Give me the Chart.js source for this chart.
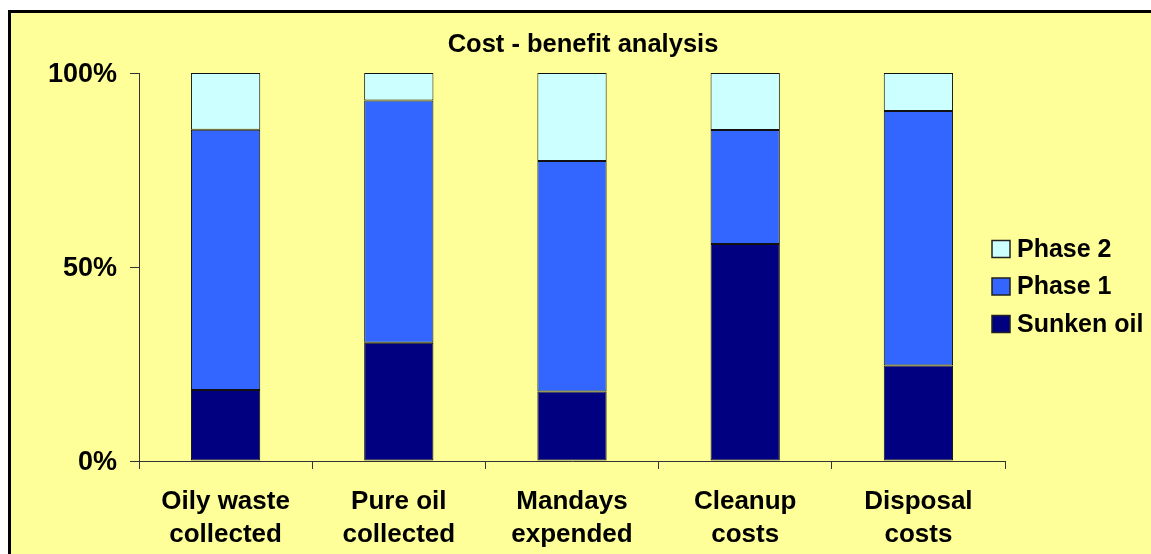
<!DOCTYPE html>
<html>
<head>
<meta charset="utf-8">
<script src="https://cdn.jsdelivr.net/npm/chart.js@4"></script>
<style>
  body { margin: 0; background: #fff; }
  #wrap { width: 1151px; height: 554px; }
</style>
</head>
<body>
<div id="wrap"><canvas id="myChart" width="1151" height="554"></canvas></div>
<script>
// values, percent of each bar
const categorias = [["Oily waste", "collected"], ["Pure oil", "collected"], ["Mandays", "expended"], ["Cleanup", "costs"], ["Disposal", "costs"]];
const sunkenOil = [18.3, 30.5, 17.9, 55.9, 24.6];
const phase1 = [67.1, 62.4, 59.4, 29.4, 65.6];
const phase2 = [14.6, 7.1, 22.7, 14.7, 9.8];
const yTicks = [0, 50, 100];
const titulo = 'Cost - benefit analysis';

const fuente = "'Liberation Sans', Arial, sans-serif";

// fondo amarillo con borde negro
const fondo = {
    id: 'fondo',
    beforeDraw(chart) {
        const c = chart.ctx;
        c.save();
        c.fillStyle = '#ffffff';
        c.fillRect(0, 0, chart.width, chart.height);
        c.fillStyle = '#000000';
        c.fillRect(8, 10, chart.width, chart.height);
        c.fillStyle = '#FFFF99';
        c.fillRect(11, 13, chart.width, chart.height);
        c.restore();
    }
};

// titulo y leyenda dibujados a mano (leyenda en orden inverso, como en el original)
const leyenda = {
    id: 'leyenda',
    afterDraw(chart) {
        const c = chart.ctx;
        c.save();
        c.fillStyle = '#000';
        c.font = "bold 25.5px " + fuente;
        c.textAlign = 'center';
        c.textBaseline = 'alphabetic';
        c.fillText(titulo, 583, 52);

        const ds = chart.data.datasets.slice().reverse();
        c.font = "bold 25px " + fuente;
        c.textAlign = 'left';
        c.textBaseline = 'middle';
        ds.forEach((d, i) => {
            const cy = 249 + i * 37.5;
            c.fillStyle = d.backgroundColor;
            c.fillRect(992, cy - 8.5, 18, 17);
            c.strokeStyle = '#222';
            c.lineWidth = 1.5;
            c.strokeRect(992, cy - 8.5, 18, 17);
            c.fillStyle = '#000';
            c.fillText(d.label, 1017, cy + 1);
        });
        c.restore();
    }
};

const ctx = document.getElementById('myChart');

new Chart(ctx, {
    type: 'bar',
    data: {
        labels: categorias,
        datasets: [
            { label: 'Sunken oil', data: sunkenOil, backgroundColor: '#000080' },
            { label: 'Phase 1', data: phase1, backgroundColor: '#3366FF' },
            { label: 'Phase 2', data: phase2, backgroundColor: '#CCFFFF' }
        ].map(d => Object.assign(d, { borderColor: '#111', borderWidth: 1, borderSkipped: false, barPercentage: 0.4, categoryPercentage: 1 }))
    },
    options: {
        responsive: false,
        animation: false,
        layout: { padding: { left: 0, right: 146, top: 73, bottom: 0 } },
        plugins: {
            legend: { display: false },
            tooltip: { enabled: false },
            title: { display: false }
        },
        scales: {
            x: {
                stacked: true,
                afterFit: s => { s.height = 93; },
                grid: { drawOnChartArea: false, tickLength: 8, color: '#333', offset: true },
                border: { color: '#333', width: 1 },
                ticks: {
                    color: '#000',
                    padding: 16,
                    maxRotation: 0,
                    font: { family: fuente, size: 26, weight: 'bold', lineHeight: 1.27 }
                }
            },
            y: {
                stacked: true,
                min: 0,
                max: 100,
                afterFit: s => { s.width = 139; },
                afterBuildTicks: s => { s.ticks = yTicks.map(v => ({ value: v })); },
                grid: { drawOnChartArea: false, tickLength: 9, color: '#333' },
                border: { color: '#333', width: 1 },
                ticks: {
                    color: '#000',
                    padding: 13,
                    labelOffset: 2,
                    callback: v => v + '%',
                    font: { family: fuente, size: 27, weight: 'bold' }
                }
            }
        }
    },
    plugins: [fondo, leyenda]
});
</script>
</body>
</html>
